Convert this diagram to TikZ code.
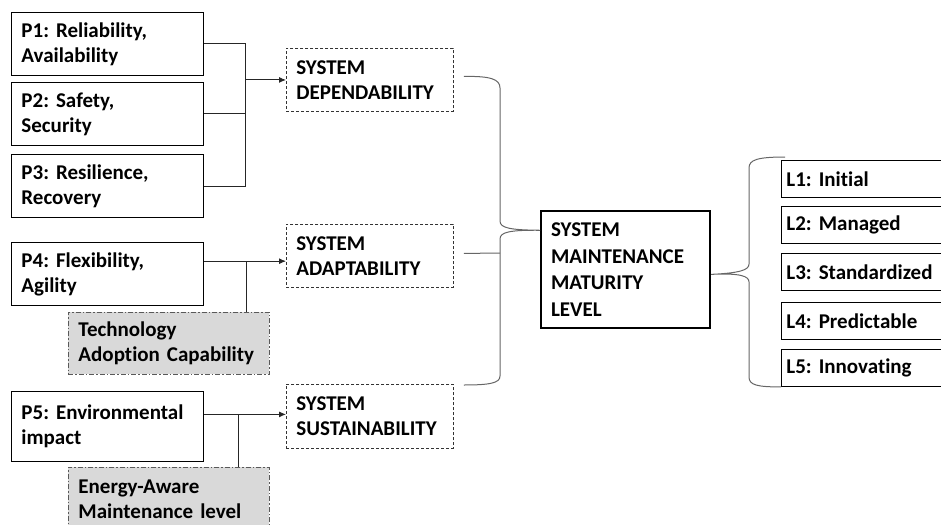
\documentclass[tikz,border=0pt]{standalone}
\usepackage{fontspec}
\setmainfont{Carlito}[Ligatures={NoCommon}]
\usetikzlibrary{arrows.meta,calc}
\frenchspacing

\begin{document}
\begin{tikzpicture}[x=1pt,y=-1pt,
  txt/.style={font=\bfseries\fontsize{21}{25}\selectfont, align=left, inner ysep=0pt},
  pbox/.style={txt, draw=black, line width=0.9pt, text width=172pt, inner xsep=10pt, minimum height=63pt, anchor=north west},
  sysbox/.style={txt, draw=black!80, line width=0.9pt, dash pattern=on 3pt off 2pt, text width=147pt, inner xsep=10pt, minimum height=63pt, anchor=north west},
  extbox/.style={txt, draw=black!65, fill=black!15, line width=0.9pt, dash pattern=on 5pt off 2pt on 1.5pt off 2pt, text width=181pt, inner xsep=10pt, minimum height=62pt, anchor=north west},
  mainbox/.style={txt, font=\bfseries\fontsize{21}{26.5}\selectfont, draw=black, line width=2.2pt, text width=149pt, inner xsep=10pt, minimum height=117pt, anchor=north west},
  lvlbox/.style={txt, draw=black, line width=0.9pt, text width=175pt, inner xsep=5pt, minimum height=37pt, anchor=north west},
  link/.style={draw=black!85, line width=0.9pt},
  arrowlink/.style={link, -{Latex[length=7pt,width=6pt]}},
  bracestyle/.style={draw=black!60, line width=1pt}
]
\useasboundingbox (0,0) rectangle (941,524);
\clip (0,0) rectangle (941,524);

% property boxes
\node[pbox] (p1) at (11,12)  {P1: Reliability,\\Availability};
\node[pbox] (p2) at (11,82)  {P2: Safety,\\Security};
\node[pbox] (p3) at (11,154) {P3: Resilience,\\Recovery};
\node[pbox] (p4) at (11,242) {P4: Flexibility,\\Agility};
\node[pbox, minimum height=70pt] (p5) at (11,391) {P5: Environmental\\impact};

% supporting capabilities
\node[extbox] (tech)   at (68,312) {Technology\\Adoption Capability};
\node[extbox, minimum height=64pt] (energy) at (68,467) {Energy-Aware\\Maintenance level};

% system qualities
\node[sysbox] (dep)   at (286,48)  {SYSTEM\\DEPENDABILITY};
\node[sysbox] (adapt) at (286,224) {SYSTEM\\ADAPTABILITY};
\node[sysbox, minimum height=64pt] (sust) at (286,384) {SYSTEM\\SUSTAINABILITY};

% maturity level
\node[mainbox] (smml) at (540,210) {SYSTEM\\MAINTENANCE\\MATURITY\\LEVEL};

% levels
\node[lvlbox] (l1) at (781,160) {L1: Initial};
\node[lvlbox] (l2) at (781,206) {L2: Managed};
\node[lvlbox] (l3) at (781,253) {L3: Standardized};
\node[lvlbox] (l4) at (781,302) {L4: Predictable};
\node[lvlbox] (l5) at (781,349) {L5: Innovating};

% P1-P3 merge into dependability
\coordinate (j1) at (245,0);
\draw[link] (p1.east) -- (p1.east -| j1) -- (p3.east -| j1) -- (p3.east);
\draw[link] (p2.east) -- (p2.east -| j1);
\draw[arrowlink] (dep.west -| j1) -- (dep.west);

% P4 with technology adoption
\coordinate (j4) at ($(p4.north east)!0.3!(p4.south east)$);
\coordinate (k4) at (246,0);
\draw[arrowlink] (j4) -- (j4 -| dep.west);
\draw[link] (j4 -| k4) -- (tech.north -| k4);

% P5 with energy awareness
\coordinate (j5) at ($(p5.north east)!0.33!(p5.south east)$);
\coordinate (k5) at (238,0);
\draw[arrowlink] (j5) -- (j5 -| sust.west);
\draw[link] (j5 -| k5) -- (energy.north -| k5);

% left brace into the maturity level
\coordinate (lbt) at ($(dep.east)+(10,-3.5)$);
\coordinate (lbb) at ($(sust.north east)+(10,1)$);
\coordinate (ltip) at ($(smml.north west)!0.17!(smml.south west)$);
\draw[bracestyle] (lbt) .. controls (490,76) and (500,79) .. (500,88)
  -- (500,221) .. controls (500,228) and (510,230) .. (ltip)
  .. controls (510,230) and (500,232) .. (500,239)
  -- (500,376) .. controls (500,383) and (490,385) .. (lbb);
\draw[bracestyle] ($(adapt.east)+(10,-2.5)$) -- (500,253);

% right brace over the levels
\coordinate (rtip) at ($(smml.north east)!0.54!(smml.south east)$);
\coordinate (rtop) at ($(l1.north west)+(4,-3)$);
\coordinate (rbot) at ($(l5.south west)+(0,0)$);
\draw[bracestyle] (rtop) .. controls (757,157) and (749,160) .. (749,168)
  -- (749,264) .. controls (749,270) and (740,273) .. (rtip)
  .. controls (740,273) and (749,276) .. (749,282)
  -- (749,377) .. controls (749,385) and (757,387) .. (rbot);
\end{tikzpicture}
\end{document}
